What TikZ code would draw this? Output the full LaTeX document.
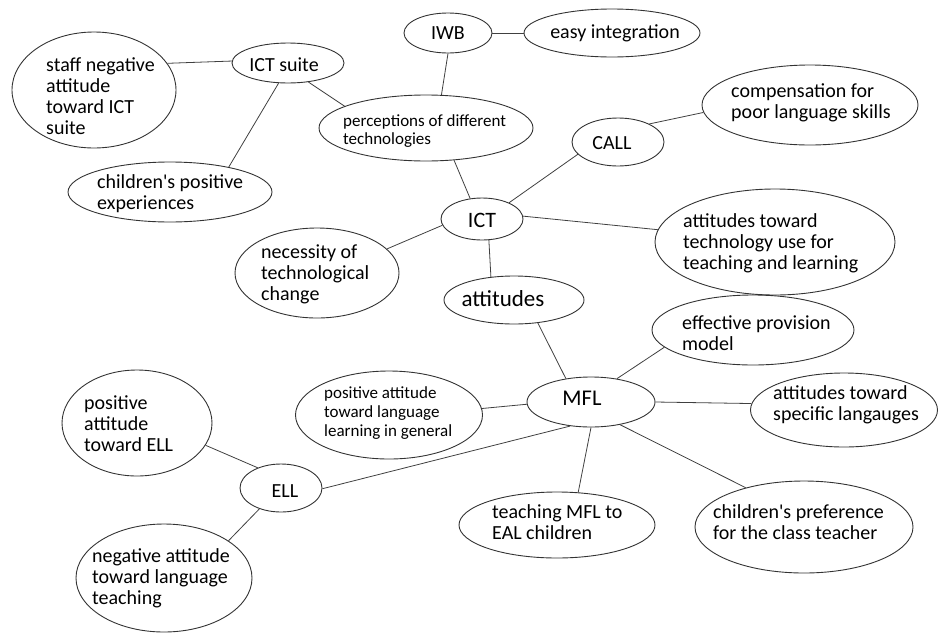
\documentclass[tikz,border=0pt]{standalone}
\usepackage{fontspec}
\setmainfont{Carlito}
\usetikzlibrary{shapes.geometric}
\begin{document}
\begin{tikzpicture}[x=1pt,y=-1pt,
  bubble/.style={ellipse, draw=black!80, line width=0.9pt, inner sep=0pt},
  link/.style={draw=black!75, line width=0.8pt},
  lbl/.style={inner sep=0pt, align=left, anchor=west, font=\fontsize{20}{21}\selectfont},
  word/.style={inner sep=0pt, font=\fontsize{20}{21}\selectfont},
]
\useasboundingbox (0,0) rectangle (939,635);

% bubbles
\node[bubble, minimum width=164pt, minimum height=116pt] (staff) at (94,90) {};
\node[bubble, minimum width=112pt, minimum height=40pt] (suite) at (288,63) {};
\node[bubble, minimum width=88pt, minimum height=40pt] (iwb) at (448,33) {};
\node[bubble, minimum width=176pt, minimum height=48pt] (easy) at (612,33) {};
\node[bubble, minimum width=214pt, minimum height=66pt] (percep) at (426,128) {};
\node[bubble, minimum width=204pt, minimum height=60pt] (kidspos) at (170,192) {};
\node[bubble, minimum width=216pt, minimum height=80pt] (comp) at (810,105) {};
\node[bubble, minimum width=92pt, minimum height=48pt] (call) at (618,142) {};
\node[bubble, minimum width=82pt, minimum height=42pt] (ict) at (482,219) {};
\node[bubble, minimum width=164pt, minimum height=90pt] (necess) at (317,273) {};
\node[bubble, minimum width=240pt, minimum height=106pt] (techuse) at (775,242) {};
\node[bubble, minimum width=140pt, minimum height=48pt] (attit) at (514,300) {};
\node[bubble, minimum width=202pt, minimum height=70pt] (provis) at (753,330) {};
\node[bubble, minimum width=128pt, minimum height=50pt] (mfl) at (591,402) {};
\node[bubble, minimum width=187pt, minimum height=74pt] (specific) at (844,410) {};
\node[bubble, minimum width=196pt, minimum height=66pt] (eal) at (557,525) {};
\node[bubble, minimum width=218pt, minimum height=92pt] (prefer) at (804,527) {};
\node[bubble, minimum width=150pt, minimum height=106pt] (posell) at (137,423) {};
\node[bubble, minimum width=187pt, minimum height=88pt] (general) at (389,415) {};
\node[bubble, minimum width=82pt, minimum height=48pt] (ell) at (281,488) {};
\node[bubble, minimum width=176pt, minimum height=108pt] (negteach) at (164,578) {};

% texts
\node[lbl] (staffT) at (46,96) {staff negative\\attitude\\toward ICT\\suite};
\node[word] (suiteT) at (284,65) {ICT suite};
\node[word] (iwbT) at (448,33) {IWB};
\node[word] (easyT) at (615,33) {easy integration};
\node[lbl, font=\fontsize{17}{18}\selectfont] (percepT) at (343,131) {perceptions of different\\technologies};
\node[lbl] (kidsposT) at (97,193.5) {children\textquotesingle s positive\\experiences};
\node[lbl] (compT) at (731,103) {compensation for\\poor language skills};
\node[word] (callT) at (612,143) {CALL};
\node[word, font=\fontsize{22}{22}\selectfont] (ictT) at (482,220) {ICT};
\node[lbl] (necessT) at (261,274.5) {necessity of\\technological\\change};
\node[lbl] (techuseT) at (683,243) {attitudes toward\\technology use for\\teaching and learning};
\node[word, font=\fontsize{23}{23}\selectfont] (attitT) at (503,299) {attitudes};
\node[lbl] (provisT) at (682,333) {effective provision\\model};
\node[word, font=\fontsize{22.5}{23}\selectfont] (mflT) at (582,398) {MFL};
\node[lbl] (specificT) at (773,404.5) {attitudes toward\\specific langauges};
\node[lbl] (ealT) at (492,522.5) {teaching MFL to\\EAL children};
\node[lbl] (preferT) at (713,522.5) {children\textquotesingle s preference\\for the class teacher};
\node[lbl] (posellT) at (84,424) {positive\\attitude\\toward ELL};
\node[lbl, font=\fontsize{17}{18.7}\selectfont] (generalT) at (324,413) {positive attitude\\toward language\\learning in general};
\node[word] (ellT) at (285,491) {ELL};
\node[lbl] (negteachT) at (92,578) {negative attitude\\toward language\\teaching};

% connectors
\draw[link] (staff.20) -- (suite.178);
\draw[link] (suite.245) -- (kidspos.23);
\draw[link] (suite.317) -- (percep.165);
\draw[link] (iwb.270) -- (percep.65);
\draw[link] (iwb) -- (easy);
\draw[link] (percep.311) -- (ict.120);
\draw[link] (ict.31) -- (call.197);
\draw[link] (call.30) -- (comp.184);
\draw[link] (ict.189) -- (necess.19);
\draw[link] (ict.4) -- (techuse.174);
\draw[link] (ict.288) -- (attit.135);
\draw[link] (attit.316) -- (mfl.137);
\draw[link] (mfl.42) -- (provis.191);
\draw[link] (mfl.182) -- (general.4);
\draw[link] (mfl.0) -- (specific.176);
\draw[link] (mfl.229) -- (ell.359);
\draw[link] (mfl.270) -- (eal.57);
\draw[link] (mfl.322) -- (prefer.146);
\draw[link] (ell.139) -- (posell.342);
\draw[link] (ell.224) -- (negteach.30);
\end{tikzpicture}
\end{document}
